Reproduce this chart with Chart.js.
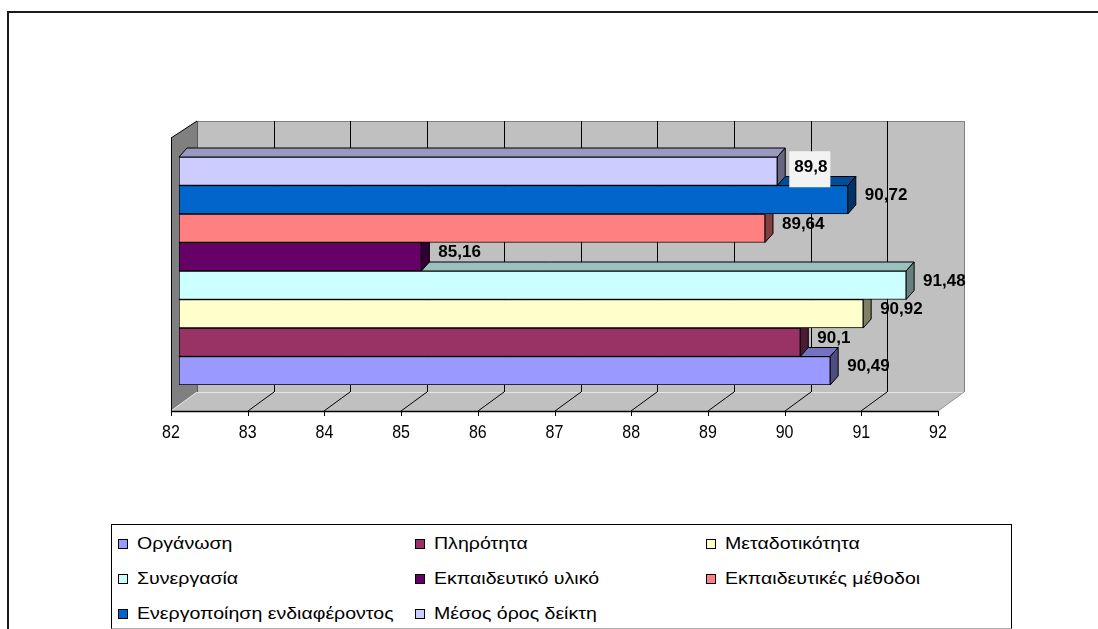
<!DOCTYPE html>
<html lang="el">
<head>
<meta charset="utf-8">
<title>Δείκτες αξιολόγησης</title>
<script src="https://cdn.jsdelivr.net/npm/chart.js@4.4.1/dist/chart.umd.min.js"></script>
<style>
    html, body { margin: 0; padding: 0; background: #ffffff; }
    #wrap { position: relative; width: 1098px; height: 629px; overflow: hidden; background: #ffffff; }
    #frame {
        position: absolute; left: 7px; top: 11px; width: 1200px; height: 700px;
        border-top: 2px solid #1a1a1a; border-left: 2px solid #1a1a1a;
    }
    #chart { position: absolute; left: 0; top: 0; }
    #legend {
        position: absolute; left: 111px; top: 524px; width: 893px; height: 102px;
        border: 1px solid #000; border-bottom-color: #b0b0b0; background: #ffffff;
        box-sizing: content-box;
        display: grid; grid-template-columns: 297px 291px 1fr; grid-auto-rows: 35px;
        padding: 1px 0 0 6px;
        font-family: 'Liberation Sans', Arial, sans-serif; font-size: 17px; color: #000;
    }
    #legend .item { display: flex; align-items: center; white-space: nowrap; }
    #legend .box {
        width: 10px; height: 10px; box-sizing: border-box; border: 1px solid #000;
        margin-right: 9px; flex: none;
    }
    #legend .txt { display: inline-block; transform: scaleX(1.15); transform-origin: left center; }
</style>
</head>
<body>
<div id="wrap">
    <div id="frame"></div>
    <canvas id="chart" width="1098" height="629"></canvas>
    <div id="legend"></div>
</div>
<script>
// Σειρές (η πρώτη εμφανίζεται στο κάτω μέρος, όπως στο Excel)
const seriesNames = [
    'Οργάνωση', 'Πληρότητα', 'Μεταδοτικότητα', 'Συνεργασία',
    'Εκπαιδευτικό υλικό', 'Εκπαιδευτικές μέθοδοι',
    'Ενεργοποίηση ενδιαφέροντος', 'Μέσος όρος δείκτη'
];
const seriesValues = [90.49, 90.1, 90.92, 91.48, 85.16, 89.64, 90.72, 89.8];
const seriesColors = [
    '#9999FF', '#993366', '#FFFFCC', '#CCFFFF',
    '#660066', '#FF8080', '#0066CC', '#CCCCFF'
];
const categories = [''];
const axisMin = 82;
const axisMax = 92;
const axisStep = 1;

// Μετατοπίσεις της τρισδιάστατης όψης (σε pixel, σχετικά με την περιοχή των ράβδων)
const depth = {
    backDx: 18, frontDx: -8,
    backTop: -36, backBottom: 7,
    frontTop: -19, frontBottom: 26,
    barDx: 8, barDy: -9
};

function shade(hex, f) {
    const n = parseInt(hex.slice(1), 16);
    const r = Math.round(((n >> 16) & 255) * f);
    const g = Math.round(((n >> 8) & 255) * f);
    const b = Math.round((n & 255) * f);
    return `rgb(${r},${g},${b})`;
}

function poly(ctx, pts, fill, stroke, lw) {
    ctx.beginPath();
    ctx.moveTo(pts[0][0], pts[0][1]);
    for (let i = 1; i < pts.length; i++) ctx.lineTo(pts[i][0], pts[i][1]);
    ctx.closePath();
    if (fill) { ctx.fillStyle = fill; ctx.fill(); }
    if (stroke) { ctx.strokeStyle = stroke; ctx.lineWidth = lw || 1; ctx.stroke(); }
}

function line(ctx, x1, y1, x2, y2, color, lw) {
    ctx.beginPath();
    ctx.moveTo(x1, y1);
    ctx.lineTo(x2, y2);
    ctx.strokeStyle = color;
    ctx.lineWidth = lw || 1;
    ctx.stroke();
}

// Τοίχοι, δάπεδο, πλέγμα και ετικέτες του άξονα
const wallsPlugin = {
    id: 'walls3d',
    beforeDatasetsDraw(chart) {
        const ctx = chart.ctx;
        const xs = chart.scales.x;
        const { top, bottom } = chart.chartArea;
        const x0 = xs.getPixelForValue(axisMin);
        const x1 = xs.getPixelForValue(axisMax);
        const bTop = top + depth.backTop, bBot = bottom + depth.backBottom;
        const fTop = top + depth.frontTop, fBot = bottom + depth.frontBottom;
        const bd = depth.backDx, fd = depth.frontDx;

        ctx.save();
        // πίσω τοίχος
        poly(ctx, [[x0 + bd, bTop], [x1 + bd, bTop], [x1 + bd, bBot], [x0 + bd, bBot]], '#C0C0C0');
        // δάπεδο
        poly(ctx, [[x0 + fd, fBot], [x1 + fd, fBot], [x1 + bd, bBot], [x0 + bd, bBot]], '#C0C0C0');
        // αριστερός τοίχος
        poly(ctx, [[x0 + fd, fTop], [x0 + bd, bTop], [x0 + bd, bBot], [x0 + fd, fBot]], '#808080');

        line(ctx, x0 + bd, bTop + 0.5, x1 + bd, bTop + 0.5, '#808080');
        line(ctx, x0 + bd, bBot + 0.5, x1 + bd, bBot + 0.5, '#E6E6E6');
        line(ctx, x1 + bd + 0.5, bTop, x1 + bd + 0.5, bBot, '#808080');

        xs.ticks.forEach(t => {
            const px = Math.round(xs.getPixelForValue(t.value));
            if (t.value > axisMin && t.value < axisMax) {
                line(ctx, px + bd + 0.5, bTop, px + bd + 0.5, bBot, '#000');
                line(ctx, px + bd, bBot, px + fd, fBot, '#000');
            }
            // υποδιαιρέσεις στην μπροστινή ακμή
            line(ctx, px + fd + 0.5, fBot, px + fd + 0.5, fBot + 5, '#000');
        });
        line(ctx, x0 + bd, bBot, x0 + fd, fBot, '#E6E6E6');
        line(ctx, x1 + bd, bBot, x1 + fd, fBot, '#909090');
        line(ctx, x0 + bd + 0.5, bTop, x0 + bd + 0.5, bBot, '#5a5a5a');

        // περίγραμμα αριστερού τοίχου
        line(ctx, x0 + fd + 0.5, fTop, x0 + fd + 0.5, fBot, '#000');
        line(ctx, x0 + fd, fTop, x0 + bd, bTop, '#000');
        // μπροστινή ακμή του άξονα
        line(ctx, x0 + fd, fBot + 0.5, x1 + fd, fBot + 0.5, '#000', 1.5);

        // ετικέτες τιμών του άξονα
        ctx.fillStyle = '#000';
        ctx.font = '16px "Liberation Sans", Arial, sans-serif';
        ctx.textAlign = 'center';
        ctx.textBaseline = 'middle';
        xs.ticks.forEach(t => {
            const px = xs.getPixelForValue(t.value) + fd;
            ctx.save();
            ctx.translate(px, fBot + 22);
            ctx.scale(1, 1.2);
            ctx.fillText(String(t.value), 0, 0);
            ctx.restore();
        });
        ctx.restore();
    },
    // επάνω και δεξιά πλευρά κάθε ράβδου, πριν σχεδιαστεί η μπροστινή
    beforeDatasetDraw(chart, args) {
        const ctx = chart.ctx;
        const ds = chart.data.datasets[args.index];
        const dx = depth.barDx, dy = depth.barDy;
        ctx.save();
        ctx.lineJoin = 'miter';
        args.meta.data.forEach(el => {
            const p = el.getProps(['x', 'y', 'base', 'height'], true);
            const t = p.y - p.height / 2, b = p.y + p.height / 2;
            const l = p.base, r = p.x;
            poly(ctx, [[l, t], [r, t], [r + dx, t + dy], [l + dx, t + dy]], shade(ds.backgroundColor, 0.75), '#000');
            poly(ctx, [[r, t], [r + dx, t + dy], [r + dx, b + dy], [r, b]], shade(ds.backgroundColor, 0.5), '#000');
        });
        ctx.restore();
    },
    // ετικέτες δεδομένων
    afterDatasetsDraw(chart) {
        const ctx = chart.ctx;
        ctx.save();
        ctx.font = 'bold 17px "Liberation Sans", Arial, sans-serif';
        ctx.textAlign = 'left';
        ctx.textBaseline = 'middle';
        chart.data.datasets.forEach((ds, i) => {
            const meta = chart.getDatasetMeta(i);
            meta.data.forEach((el, j) => {
                const text = String(ds.data[j]).replace('.', ',');
                const x = el.x + depth.barDx + 9;
                const y = el.y - 4;
                if (ds.labelBackground) {
                    const w = ctx.measureText(text).width;
                    ctx.fillStyle = ds.labelBackground;
                    ctx.fillRect(x - 5, y - 16, w + 8, 36);
                }
                ctx.fillStyle = '#000';
                ctx.fillText(text, x, y);
            });
        });
        ctx.restore();
    }
};

// Το Chart.js τοποθετεί το πρώτο dataset επάνω, άρα αντιστρέφουμε
const datasets = seriesNames.map((name, i) => ({
    label: name,
    data: [seriesValues[i]],
    base: axisMin,
    backgroundColor: seriesColors[i],
    borderColor: '#000000',
    borderWidth: 1,
    borderSkipped: false,
    labelBackground: i === seriesNames.length - 1 ? '#F3F3F3' : null
})).reverse();

const chart = new Chart(document.getElementById('chart'), {
    type: 'bar',
    data: { labels: categories, datasets: datasets },
    options: {
        indexAxis: 'y',
        responsive: false,
        animation: false,
        devicePixelRatio: 1,
        layout: { padding: { left: 179, right: 152, top: 157, bottom: 244 } },
        datasets: { bar: { categoryPercentage: 1, barPercentage: 1 } },
        scales: {
            x: {
                display: false,
                beginAtZero: false,
                min: axisMin,
                max: axisMax,
                ticks: { stepSize: axisStep }
            },
            y: { display: false }
        },
        plugins: {
            legend: { display: false },
            tooltip: { enabled: false }
        }
    },
    plugins: [wallsPlugin]
});

// Υπόμνημα σε τρεις στήλες, με τη σειρά των σειρών
const legendEl = document.getElementById('legend');
chart.data.datasets.slice().reverse().forEach(ds => {
    const item = document.createElement('div');
    item.className = 'item';
    const box = document.createElement('span');
    box.className = 'box';
    box.style.background = ds.backgroundColor;
    const txt = document.createElement('span');
    txt.className = 'txt';
    txt.textContent = ds.label;
    item.appendChild(box);
    item.appendChild(txt);
    legendEl.appendChild(item);
});
</script>
</body>
</html>
